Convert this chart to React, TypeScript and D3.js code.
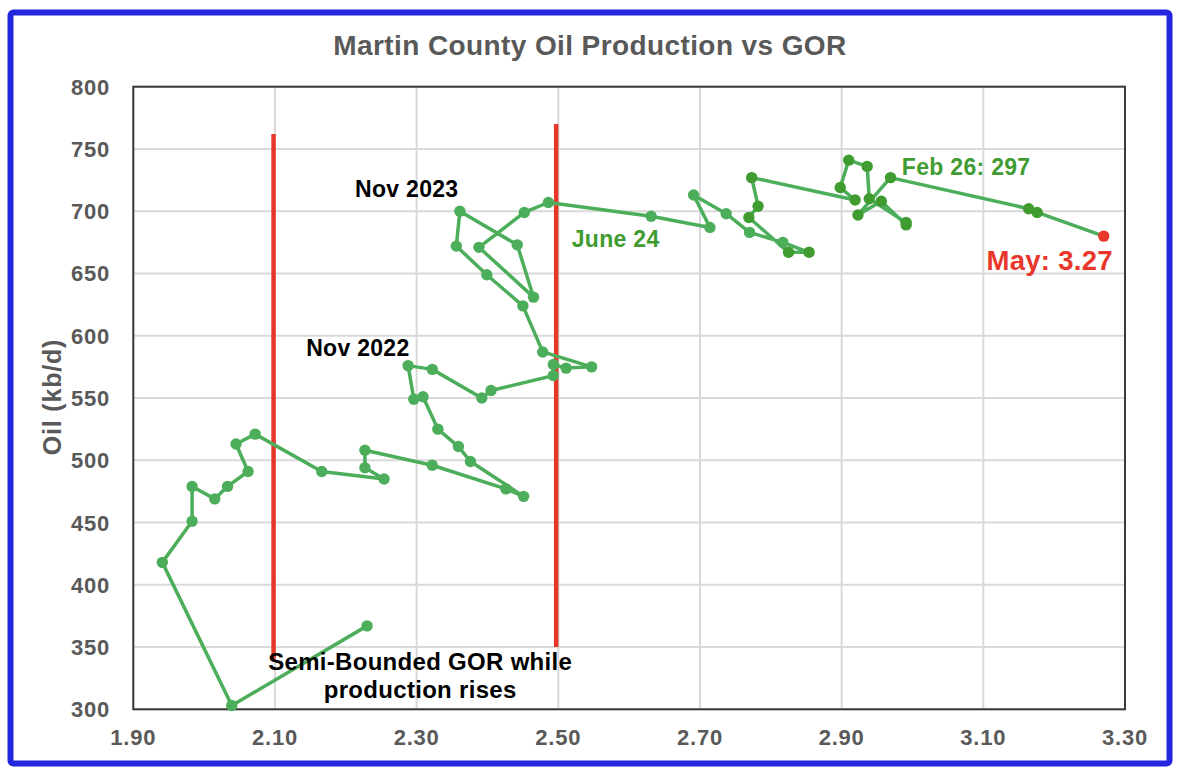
import * as d3 from 'd3';

// GOR (x) and oil output (kb/d), in path order
const gor = [
  2.23, 2.039, 1.941, 1.983, 1.983, 2.015, 2.033, 2.062, 2.045, 2.072,
  2.166, 2.254, 2.227, 2.227, 2.322, 2.426, 2.451, 2.376, 2.359, 2.33,
  2.309, 2.296, 2.288, 2.322, 2.392, 2.405, 2.493, 2.493, 2.511, 2.547,
  2.478, 2.45, 2.399, 2.356, 2.361, 2.442, 2.465, 2.388, 2.452, 2.486,
  2.631, 2.714, 2.691, 2.737, 2.77, 2.817, 2.854, 2.825, 2.769, 2.782,
  2.773, 2.919, 2.898, 2.91, 2.936, 2.939, 2.991, 2.991, 2.956, 2.923,
  2.969, 3.164, 3.176, 3.27,
];
const oil = [
  367, 303, 418, 451, 479, 469, 479, 491, 513, 521,
  491, 485, 494, 508, 496, 477, 471, 499, 511, 525,
  551, 549, 576, 573, 550, 556, 568, 577, 574, 575,
  587, 624, 649, 672, 700, 673, 631, 671, 699, 707,
  696, 687, 713, 698, 683, 675, 667, 667, 695, 704,
  727, 709, 719, 741, 736, 710, 691, 689, 708, 697,
  727, 702, 699, 680,
];
// points from this index on are the recent (darker) series, last point is the May estimate
const recentStart = 46;

const xTicks = [1.9, 2.1, 2.3, 2.5, 2.7, 2.9, 3.1, 3.3];
const yTicks = [300, 350, 400, 450, 500, 550, 600, 650, 700, 750, 800];

// vertical "bound" markers: [gor, oilFrom, oilTo]
const bounds: [number, number, number][] = [
  [2.098, 340, 762],
  [2.497, 350, 770],
];

const title = 'Martin County Oil Production vs GOR';
const yTitle = 'Oil (kb/d)';

const W = 1184;
const H = 778;
const FONT = '"Liberation Sans", Arial, Helvetica, sans-serif';
const GREEN = '#4cae5b';
const DARK = '#409c30';
const RED = '#e8372a';
const GREY = '#595959';

export default function App() {
  const x = d3.scaleLinear().domain([1.9, 3.3]).range([133.3, 1125]);
  const y = d3.scaleLinear().domain([300, 800]).range([709.3, 86.7]);

  const pts = gor.map((g, i) => [g, oil[i]] as [number, number]);
  const line = d3
    .line<[number, number]>()
    .x(d => x(d[0]))
    .y(d => y(d[1]));

  const last = pts.length - 1;

  return (
    <svg
      width={W}
      height={H}
      style={{ position: 'absolute', left: 0, top: 0, background: '#fff' }}
      fontFamily={FONT}
    >
      <rect x={10.5} y={12.5} width={1159} height={751} rx={3} fill="#fff" stroke="#2226de" strokeWidth={6} />

      <text x={590} y={55} textAnchor="middle" fontSize={28} fontWeight="bold" fill={GREY} letterSpacing={0.4}>
        {title}
      </text>

      {/* grid */}
      {xTicks.map(t => (
        <line key={'gx' + t} x1={x(t)} x2={x(t)} y1={y(800)} y2={y(300)} stroke="#d9d9d9" strokeWidth={2} />
      ))}
      {yTicks.map(t => (
        <line key={'gy' + t} x1={x(1.9)} x2={x(3.3)} y1={y(t)} y2={y(t)} stroke="#d9d9d9" strokeWidth={2} />
      ))}
      <rect
        x={x(1.9)}
        y={y(800)}
        width={x(3.3) - x(1.9)}
        height={y(300) - y(800)}
        fill="none"
        stroke="#3a3a3a"
        strokeWidth={2}
      />

      {/* tick labels */}
      {xTicks.map(t => (
        <text
          key={'tx' + t}
          x={x(t)}
          y={745}
          textAnchor="middle"
          fontSize={22}
          fontWeight="bold"
          fill={GREY}
          letterSpacing={0.8}
        >
          {t.toFixed(2)}
        </text>
      ))}
      {yTicks.map(t => (
        <text
          key={'ty' + t}
          x={110}
          y={y(t) + 8}
          textAnchor="end"
          fontSize={22}
          fontWeight="bold"
          fill={GREY}
          letterSpacing={0.8}
        >
          {t}
        </text>
      ))}
      <text
        transform="translate(61,397) rotate(-90)"
        textAnchor="middle"
        fontSize={25}
        fontWeight="bold"
        fill={GREY}
        letterSpacing={0.8}
      >
        {yTitle}
      </text>

      {/* bound markers */}
      {bounds.map(([g, lo, hi]) => (
        <line key={'b' + g} x1={x(g)} x2={x(g)} y1={y(lo)} y2={y(hi)} stroke={RED} strokeWidth={4.5} />
      ))}

      {/* production path */}
      <path d={line(pts) || ''} fill="none" stroke={GREEN} strokeWidth={3.5} strokeLinejoin="round" />
      {pts.map((p, i) => (
        <circle
          key={'p' + i}
          cx={x(p[0])}
          cy={y(p[1])}
          r={5.7}
          fill={i === last ? RED : i >= recentStart ? DARK : GREEN}
        />
      ))}

      {/* annotations */}
      <g fontWeight="bold" fontSize={23} letterSpacing={0.3}>
        <text x={x(2.213)} y={y(711.4)} fill="#000">Nov 2023</text>
        <text x={x(2.144)} y={y(584)} fill="#000">Nov 2022</text>
        <text x={x(2.519)} y={y(671.3)} fill={DARK}>June 24</text>
        <text x={x(2.985)} y={y(729)} fill={DARK}>Feb 26: 297</text>
        <text x={x(3.283)} y={y(652.8)} fill={RED} fontSize={27.5} textAnchor="end">
          May: 3.27
        </text>
        <text x={x(2.305)} y={y(331.6)} fill="#000" textAnchor="middle" fontSize={24}>
          Semi-Bounded GOR while
        </text>
        <text x={x(2.305)} y={y(309.3)} fill="#000" textAnchor="middle" fontSize={24}>
          production rises
        </text>
      </g>
    </svg>
  );
}
